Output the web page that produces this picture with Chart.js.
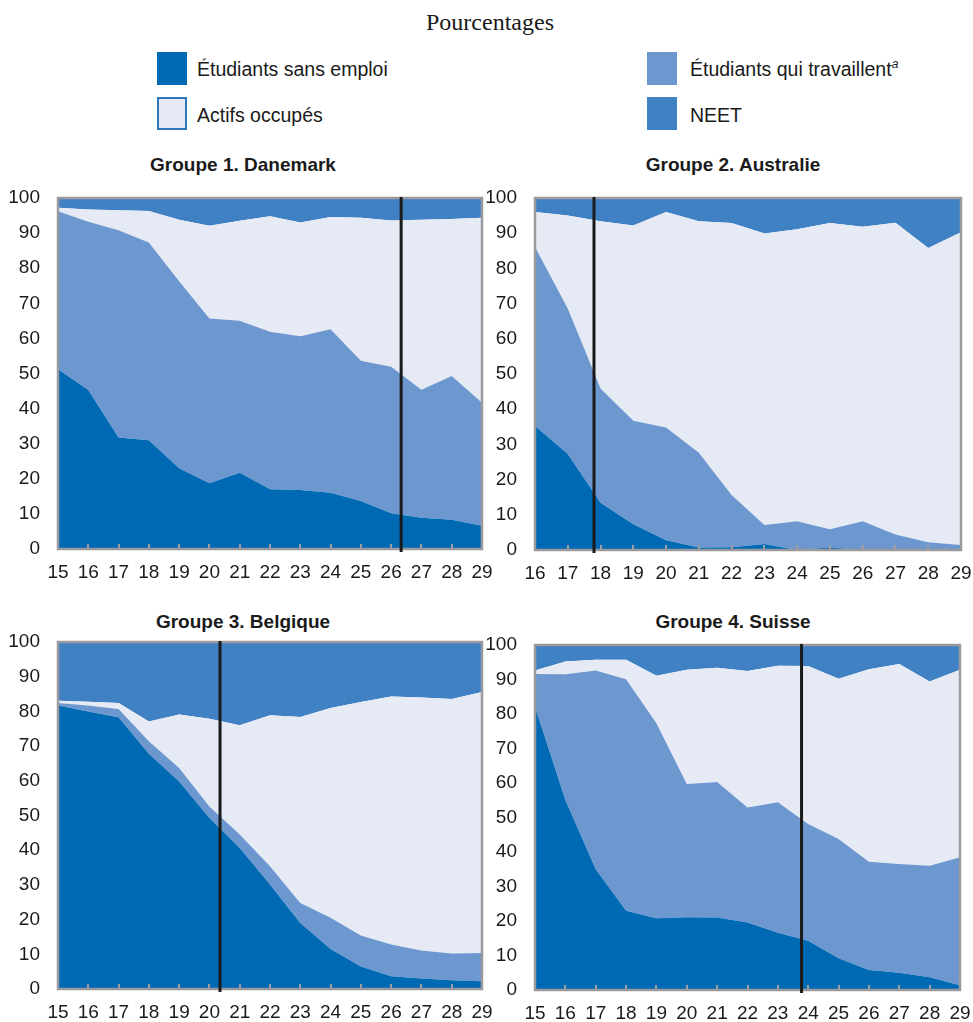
<!DOCTYPE html>
<html lang="fr">
<head>
<meta charset="utf-8">
<title>Pourcentages</title>
<script src="https://cdn.jsdelivr.net/npm/chart.js@4.4.1/dist/chart.umd.min.js"></script>
<style>
  html, body { margin: 0; padding: 0; }
  body {
    width: 973px; height: 1022px; overflow: hidden; position: relative;
    background: #ffffff; color: #1a1a1a;
    font-family: "Liberation Sans", Arial, Helvetica, sans-serif;
  }
  .main-title {
    position: absolute; left: 0; width: 980px; top: 9px; text-align: center;
    font-family: "Liberation Serif", "Times New Roman", serif; font-size: 24px;
  }
  .leg { position: absolute; font-size: 19.5px; line-height: 20px; }
  .sw { position: absolute; width: 30px; height: 33px; box-sizing: border-box; }
  .leg sup { font-style: italic; font-size: 12px; vertical-align: 8px; line-height: 0; }
  .ptitle { position: absolute; font-weight: bold; font-size: 19px; text-align: center; width: 486px; }
  canvas { position: absolute; }
</style>
</head>
<body>
<div class="main-title">Pourcentages</div>

<div class="sw" style="left:157px;top:52px;background:#0069b4"></div>
<div class="leg" style="left:197px;top:59px">Étudiants sans emploi</div>
<div class="sw" style="left:647px;top:52px;background:#6d98cf"></div>
<div class="leg" style="left:690px;top:59px">Étudiants qui travaillent<sup>a</sup></div>
<div class="sw" style="left:157px;top:97px;background:#e6eaf5;border:2px solid #2d76bd"></div>
<div class="leg" style="left:197px;top:105px">Actifs occupés</div>
<div class="sw" style="left:647px;top:97px;background:#4081c4"></div>
<div class="leg" style="left:690px;top:105px">NEET</div>

<div class="ptitle" style="left:0px;top:154px">Groupe 1. Danemark</div>
<div class="ptitle" style="left:490px;top:154px">Groupe 2. Australie</div>
<div class="ptitle" style="left:0px;top:611px">Groupe 3. Belgique</div>
<div class="ptitle" style="left:490px;top:611px">Groupe 4. Suisse</div>

<canvas id="c1" width="497" height="410" style="left:0px;top:185px"></canvas>
<canvas id="c2" width="488" height="410" style="left:485px;top:185px"></canvas>
<canvas id="c3" width="497" height="392" style="left:0px;top:630px"></canvas>
<canvas id="c4" width="488" height="392" style="left:485px;top:630px"></canvas>

<script>
// Ages on the horizontal axis
const agesFrom15 = [15, 16, 17, 18, 19, 20, 21, 22, 23, 24, 25, 26, 27, 28, 29];
const agesFrom16 = [16, 17, 18, 19, 20, 21, 22, 23, 24, 25, 26, 27, 28, 29];

const seriesLabels = ['Étudiants sans emploi', 'Étudiants qui travaillent', 'Actifs occupés', 'NEET'];
const seriesColors = ['#0069b4', '#6d98cf', '#e6eaf5', '#4081c4'];

// Groupe 1. Danemark (%)
const dkSansEmploi   = [51.2, 45.3, 31.8, 31.0, 23.0, 18.7, 21.7, 17.0, 16.8, 16.0, 13.7, 10.2, 8.9, 8.3, 6.6];
const dkTravaillent  = [45.0, 47.9, 59.0, 56.3, 53.3, 47.0, 43.3, 44.9, 43.8, 46.6, 39.9, 41.7, 36.5, 41.0, 35.1];
const dkActifs       = [1.0, 3.5, 5.7, 9.0, 17.5, 26.4, 28.5, 32.9, 32.4, 32.0, 40.8, 41.7, 48.4, 44.7, 52.7];
const dkNeet         = [2.8, 3.3, 3.5, 3.7, 6.2, 7.9, 6.5, 5.2, 7.0, 5.4, 5.6, 6.4, 6.2, 6.0, 5.6];

// Groupe 2. Australie (%)
const auSansEmploi   = [35.2, 27.3, 13.4, 7.3, 2.8, 0.7, 0.8, 1.7, 0.0, 0.7, 0.0, 0.0, 0.0, 0.0];
const auTravaillent  = [50.9, 41.3, 32.5, 29.4, 32.0, 26.9, 14.8, 5.4, 8.2, 5.2, 8.2, 4.4, 2.2, 1.4];
const auActifs       = [9.9, 26.4, 47.5, 55.5, 61.2, 65.8, 77.3, 82.8, 82.9, 87.0, 83.6, 88.6, 83.6, 88.9];
const auNeet         = [4.0, 5.0, 6.6, 7.8, 4.0, 6.6, 7.1, 10.1, 8.9, 7.1, 8.2, 7.0, 14.2, 9.7];

// Groupe 3. Belgique (%)
const beSansEmploi   = [81.7, 80.0, 78.3, 67.8, 59.8, 49.3, 40.6, 30.1, 19.0, 11.5, 6.5, 3.7, 3.0, 2.5, 2.2];
const beTravaillent  = [0.7, 1.7, 2.4, 3.6, 3.9, 3.3, 3.9, 5.3, 5.8, 9.0, 8.9, 9.1, 8.1, 7.7, 8.2];
const beActifs       = [0.7, 1.1, 1.7, 5.7, 15.4, 25.3, 31.5, 43.5, 53.6, 60.5, 67.3, 71.5, 72.9, 73.4, 75.2];
const beNeet         = [16.9, 17.2, 17.6, 22.9, 20.9, 22.1, 24.0, 21.1, 21.6, 19.0, 17.3, 15.7, 16.0, 16.4, 14.4];

// Groupe 4. Suisse (%)
const chSansEmploi   = [82.1, 55.1, 35.0, 23.0, 20.8, 21.1, 21.0, 19.6, 16.6, 14.3, 9.2, 5.8, 5.0, 3.7, 1.4];
const chTravaillent  = [9.5, 36.4, 57.6, 67.1, 56.5, 38.6, 39.3, 33.3, 37.8, 33.8, 34.6, 31.4, 31.5, 32.3, 37.1];
const chActifs       = [1.0, 3.7, 3.1, 5.6, 13.8, 33.1, 33.1, 39.6, 39.6, 45.8, 46.4, 55.8, 58.0, 53.4, 54.3];
const chNeet         = [7.4, 4.8, 4.3, 4.3, 8.9, 7.2, 6.6, 7.5, 6.0, 6.1, 9.8, 7.0, 5.5, 10.6, 7.2];

// Age at which the vertical reference line is drawn in each panel
const separatorAges = [26.33, 17.8, 20.35, 23.78];

const yTicks = [0, 10, 20, 30, 40, 50, 60, 70, 80, 90, 100];

// Frame, inner x tick marks and vertical separator line
const panelDecor = {
  id: 'panelDecor',
  afterDatasetsDraw(chart, args, opts) {
    const { ctx, chartArea: a, scales: { x } } = chart;
    ctx.save();
    // small tick marks rising from the bottom edge
    ctx.strokeStyle = '#a0a0a4';
    ctx.lineWidth = 2;
    for (let v = Math.ceil(x.min); v <= x.max; v++) {
      const px = Math.round(x.getPixelForValue(v));
      ctx.beginPath();
      ctx.moveTo(px, a.bottom);
      ctx.lineTo(px, a.bottom - 5);
      ctx.stroke();
    }
    // plot frame
    ctx.strokeStyle = '#9a9a9e';
    ctx.lineWidth = 2.5;
    ctx.strokeRect(a.left, a.top, a.right - a.left, a.bottom - a.top);
    // separator
    const sx = x.getPixelForValue(opts.age);
    ctx.strokeStyle = '#1a1a1a';
    ctx.lineWidth = 3;
    ctx.beginPath();
    ctx.moveTo(sx, a.top - 1);
    ctx.lineTo(sx, a.bottom + 3);
    ctx.stroke();
    ctx.restore();
  }
};

function makePanel(id, ages, series, age, geom) {
  const datasets = series.map((vals, i) => ({
    label: seriesLabels[i],
    data: ages.map((a, k) => ({ x: a, y: vals[k] })),
    backgroundColor: seriesColors[i],
    borderColor: 'rgba(0,0,0,0)',
    borderWidth: 0,
    pointRadius: 0,
    tension: 0,
    fill: i === 0 ? 'origin' : '-1'
  }));
  new Chart(document.getElementById(id), {
    type: 'line',
    data: { datasets },
    options: {
      responsive: false,
      devicePixelRatio: 1,
      animation: false,
      events: [],
      layout: { padding: { top: geom.top, right: geom.right, left: 0, bottom: 0 } },
      plugins: { legend: { display: false }, tooltip: { enabled: false }, panelDecor: { age } },
      scales: {
        x: {
          type: 'linear',
          min: ages[0], max: ages[ages.length - 1],
          grid: { display: false, drawTicks: false },
          border: { display: false },
          afterBuildTicks: s => { s.ticks = ages.map(v => ({ value: v })); },
          ticks: { font: { size: 19, family: 'Liberation Sans' }, color: '#1a1a1a', padding: 12, maxRotation: 0, autoSkip: false },
          afterFit: s => { s.height = geom.xh; s.paddingLeft = 0; s.paddingRight = 0; }
        },
        y: {
          stacked: true,
          min: 0, max: 100,
          grid: { display: false, drawTicks: false },
          border: { display: false },
          afterBuildTicks: s => { s.ticks = yTicks.map(v => ({ value: v })); },
          ticks: { font: { size: 19, family: 'Liberation Sans' }, color: '#1a1a1a', padding: 18 },
          afterFit: s => { s.width = geom.yw; s.paddingTop = 0; s.paddingBottom = 0; }
        }
      }
    },
    plugins: [panelDecor]
  });
}

makePanel('c1', agesFrom15, [dkSansEmploi, dkTravaillent, dkActifs, dkNeet], separatorAges[0],
  { top: 13, right: 15, yw: 58, xh: 46 });
makePanel('c2', agesFrom16, [auSansEmploi, auTravaillent, auActifs, auNeet], separatorAges[1],
  { top: 13, right: 12, yw: 50, xh: 45 });
makePanel('c3', agesFrom15, [beSansEmploi, beTravaillent, beActifs, beNeet], separatorAges[2],
  { top: 12, right: 15, yw: 58, xh: 33 });
makePanel('c4', agesFrom15, [chSansEmploi, chTravaillent, chActifs, chNeet], separatorAges[3],
  { top: 15, right: 13, yw: 50, xh: 32 });
</script>
</body>
</html>
